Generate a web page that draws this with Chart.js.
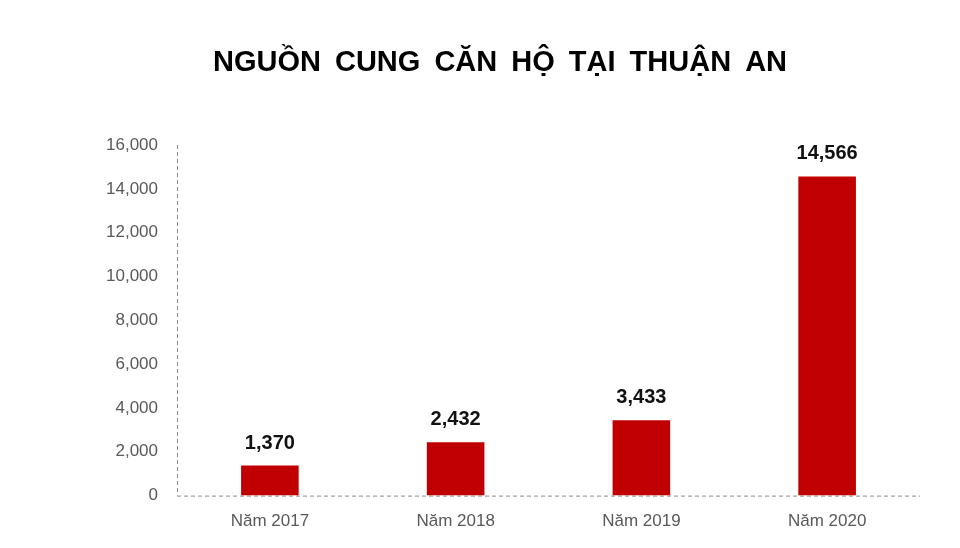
<!DOCTYPE html>
<html>
<head>
<meta charset="utf-8">
<script src="https://cdn.jsdelivr.net/npm/chart.js@4/dist/chart.umd.min.js"></script>
<style>
  html, body { margin: 0; padding: 0; background: #fff; }
  #wrap { width: 960px; height: 548px; }
</style>
</head>
<body>
<div id="wrap"><canvas id="chart"></canvas></div>
<script>
// du lieu bieu do
const chartTitle = 'NGUỒN CUNG CĂN HỘ TẠI THUẬN AN';
const years = ['Năm 2017', 'Năm 2018', 'Năm 2019', 'Năm 2020'];
const supply = [1370, 2432, 3433, 14566];
const yTicks = [0, 2000, 4000, 6000, 8000, 10000, 12000, 14000, 16000];

const fmt = v => v.toLocaleString('en-US');

// truc net dut (border.dash khong ap dung cho duong truc)
const dashedAxes = {
    id: 'dashedAxes',
    beforeDatasetsDraw(chart) {
        const { ctx, chartArea: a } = chart;
        ctx.save();
        ctx.strokeStyle = '#8c8c8c';
        ctx.lineWidth = 1;
        ctx.setLineDash([4, 3]);
        ctx.beginPath();
        ctx.moveTo(a.left + 0.5, a.top);
        ctx.lineTo(a.left + 0.5, a.bottom);
        ctx.moveTo(a.left, a.bottom + 0.5);
        ctx.lineTo(a.right, a.bottom + 0.5);
        ctx.stroke();
        ctx.restore();
    }
};

// tieu de + nhan so tren cot
const labelsPlugin = {
    id: 'labels',
    afterDraw(chart) {
        const ctx = chart.ctx;
        ctx.save();
        ctx.fillStyle = '#000';
        ctx.font = 'bold 29px "Liberation Sans", Arial, sans-serif';
        ctx.textAlign = 'center';
        ctx.textBaseline = 'alphabetic';
        ctx.wordSpacing = '6px';
        ctx.fillText(chartTitle, 500, 71);
        ctx.wordSpacing = '0px';

        ctx.font = 'bold 20px "Liberation Sans", Arial, sans-serif';
        ctx.fillStyle = '#111';
        const meta = chart.getDatasetMeta(0);
        meta.data.forEach((bar, i) => {
            ctx.fillText(fmt(supply[i]), bar.x, bar.y - 17);
        });
        ctx.restore();
    }
};

new Chart(document.getElementById('chart'), {
    type: 'bar',
    data: {
        labels: years,
        datasets: [{
            data: supply,
            backgroundColor: '#C00000',
            borderWidth: 0,
            categoryPercentage: 1,
            barPercentage: 0.31
        }]
    },
    options: {
        responsive: true,
        maintainAspectRatio: false,
        animation: false,
        layout: { padding: { top: 145, right: 40, bottom: 0, left: 0 } },
        plugins: { legend: { display: false }, tooltip: { enabled: false }, title: { display: false } },
        scales: {
            x: {
                grid: { display: false, drawTicks: false },
                border: { display: false },
                ticks: { color: '#595959', font: { family: '"Liberation Sans", Arial', size: 17 }, padding: 16 }
            },
            y: {
                min: 0,
                max: 16000,
                afterFit(scale) { scale.width = 177; },
                afterBuildTicks(scale) { scale.ticks = yTicks.map(v => ({ value: v })); },
                grid: { display: false, drawTicks: false },
                border: { display: false },
                ticks: {
                    color: '#595959',
                    font: { family: '"Liberation Sans", Arial', size: 17 },
                    padding: 19,
                    callback: v => fmt(v)
                }
            }
        }
    },
    plugins: [dashedAxes, labelsPlugin]
});
</script>
</body>
</html>
